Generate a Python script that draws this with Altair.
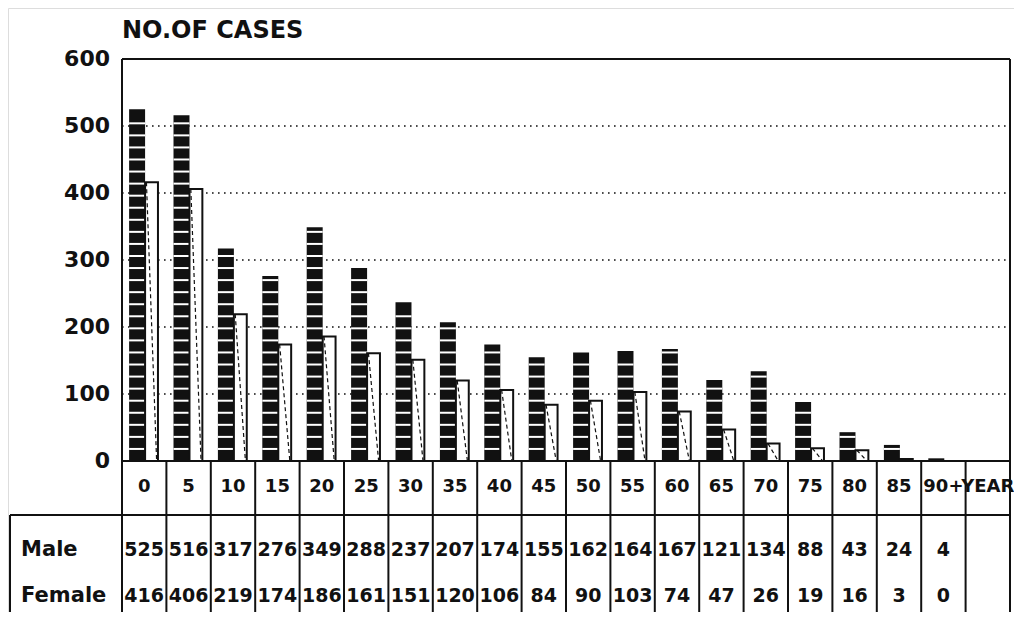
import altair as alt
import pandas as pd
import numpy as np

# ---------------- data ----------------
ages = ["0", "5", "10", "15", "20", "25", "30", "35", "40", "45",
        "50", "55", "60", "65", "70", "75", "80", "85", "90+"]
male = [525, 516, 317, 276, 349, 288, 237, 207, 174, 155,
        162, 164, 167, 121, 134, 88, 43, 24, 4]
female = [416, 406, 219, 174, 186, 161, 151, 120, 106, 84,
          90, 103, 74, 47, 26, 19, 16, 3, 0]
col_labels = ages + ["YEAR"]
y_ticks = [0, 100, 200, 300, 400, 500, 600]
grid_vals = [100, 200, 300, 400, 500]
row_names = ["Male", "Female"]
title_text = "NO.OF CASES"

# ---------------- layout ----------------
UNIT = 44.4          # px per column
PXC = 0.67           # px per case
W, H = 1006, 604
X0, X1 = -114 / UNIT, 892 / UNIT
Y_TOP, Y_BOT = 453 / PXC, -151 / PXC
NCOL = len(col_labels)
XT = -112 / UNIT                 # table left border
CAT_Y = -26 / PXC                # category label row centre
TT = -54 / PXC                   # table top line
MALE_Y = -89 / PXC
FEM_Y = -135 / PXC
TITLE_Y = 430 / PXC
STRIPE = 18

xs = alt.Scale(domain=[X0, X1], nice=False, zero=False)
ys = alt.Scale(domain=[Y_BOT, Y_TOP], nice=False, zero=False)
INK = "#111111"
FONT = "DejaVu Sans"

n = len(ages)
bars = pd.DataFrame({"i": range(n), "age": ages, "male": male, "female": female})
bars["xm0"] = bars.i + 0.16
bars["xm1"] = bars.i + 0.52
bars["xf0"] = bars.i + 0.52
bars["xf1"] = bars.i + 0.81
bars["xd0"] = bars.i + 0.55
bars["xd1"] = bars.i + 0.78
bars["base"] = 0
bars["xc"] = bars.i + 0.5

# white stripes of the male bar pattern
srows = []
for _, r in bars.iterrows():
    for v in np.arange(STRIPE, r.male - 4, STRIPE):
        srows.append({"x": r.xm0, "x2": r.xm1, "y": v})
stripes = pd.DataFrame(srows)

# frame and table lines
lines = [dict(x=0, x2=20, y=600, y2=600), dict(x=0, x2=20, y=0, y2=0),
         dict(x=XT, x2=20, y=TT, y2=TT), dict(x=XT, x2=XT, y=TT, y2=Y_BOT)]
for k in range(NCOL + 1):
    top = 600 if k in (0, NCOL) else 0
    lines.append(dict(x=k, x2=k, y=top, y2=Y_BOT))
lines = pd.DataFrame(lines)

grid = pd.DataFrame({"y": grid_vals, "x": 0, "x2": NCOL})
ylab = pd.DataFrame({"v": y_ticks, "t": [str(t) for t in y_ticks], "x": -0.27})
cats = pd.DataFrame({"t": col_labels, "x": [i + 0.5 for i in range(NCOL)], "y": CAT_Y})
tab = pd.DataFrame({
    "t": [str(v) for v in male] + [str(v) for v in female],
    "x": list(bars.xc) * 2,
    "y": [MALE_Y] * n + [FEM_Y] * n,
})
rows = pd.DataFrame({"t": row_names, "x": XT + 0.25, "y": [MALE_Y, FEM_Y]})
ttl = pd.DataFrame({"t": [title_text], "x": [0.0], "y": [TITLE_Y]})


def X(f):
    return alt.X(f, type="quantitative", scale=xs, axis=None)


def Y(f):
    return alt.Y(f, type="quantitative", scale=ys, axis=None)


gridl = alt.Chart(grid).mark_rule(color=INK, strokeWidth=1.6, strokeDash=[1.6, 4.4]).encode(
    x=X("x"), x2="x2", y=Y("y"))
malebars = alt.Chart(bars).mark_rect(color=INK).encode(
    x=X("xm0"), x2="xm1", y=Y("base"), y2="male")
stripel = alt.Chart(stripes).mark_rule(color="white", strokeWidth=2).encode(
    x=X("x"), x2="x2", y=Y("y"))
fembars = alt.Chart(bars).mark_rect(fill="white", stroke=INK, strokeWidth=2).encode(
    x=X("xf0"), x2="xf1", y=Y("base"), y2="female")
femdiag = alt.Chart(bars[bars.female > 0]).mark_rule(
    color=INK, strokeWidth=1.2, strokeDash=[4, 3]).encode(
    x=X("xd0"), x2="xd1", y=Y("female"), y2="base")
framel = alt.Chart(lines).mark_rule(color=INK, strokeWidth=2).encode(
    x=X("x"), x2="x2", y=Y("y"), y2="y2")
ylabels = alt.Chart(ylab).mark_text(
    align="right", baseline="middle", font=FONT, fontSize=22, fontWeight="bold", color=INK
).encode(x=X("x"), y=Y("v"), text="t")
catl = alt.Chart(cats).mark_text(
    align="center", baseline="middle", font=FONT, fontSize=18, fontWeight="bold", color=INK
).encode(x=X("x"), y=Y("y"), text="t")
tabl = alt.Chart(tab).mark_text(
    align="center", baseline="middle", font=FONT, fontSize=19, fontWeight="bold", color=INK
).encode(x=X("x"), y=Y("y"), text="t")
rowl = alt.Chart(rows).mark_text(
    align="left", baseline="middle", font=FONT, fontSize=21, fontWeight="bold", color=INK
).encode(x=X("x"), y=Y("y"), text="t")
titl = alt.Chart(ttl).mark_text(
    align="left", baseline="middle", font=FONT, fontSize=24, fontWeight="bold", color=INK
).encode(x=X("x"), y=Y("y"), text="t")

chart = alt.layer(
    gridl, malebars, stripel, fembars, femdiag, framel,
    ylabels, catl, tabl, rowl, titl
).properties(
    width=W, height=H, padding=0, autosize=alt.AutoSizeParams(type="none")
).configure_view(stroke=None).configure(background="white")

chart.save("out.html", embed_options={"renderer": "svg", "actions": False})
